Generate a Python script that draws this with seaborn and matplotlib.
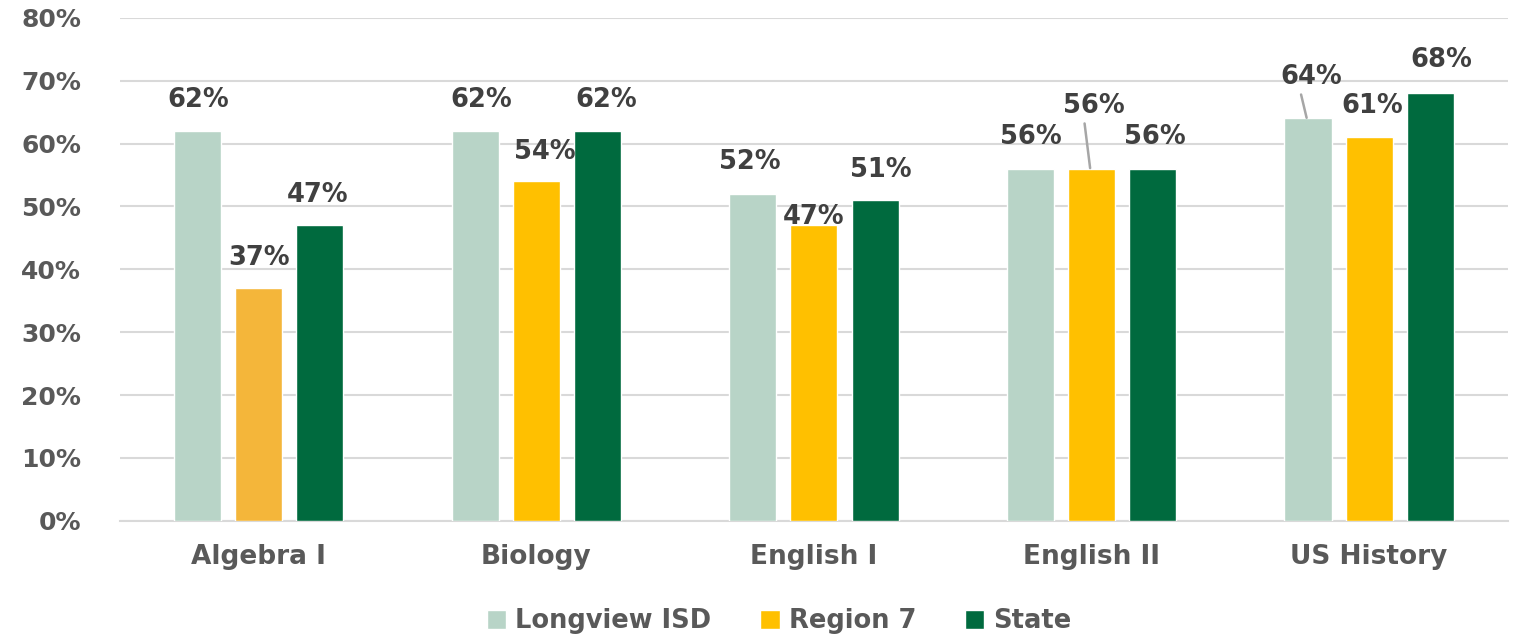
import matplotlib
matplotlib.use("Agg")
import matplotlib.pyplot as plt
import seaborn as sns
import pandas as pd

categories = ["Algebra I", "Biology", "English I", "English II", "US History"]
series = ["Longview ISD", "Region 7", "State"]
longview = [62, 62, 52, 56, 64]
region7 = [37, 54, 47, 56, 61]
state = [47, 62, 51, 56, 68]
yticks = [0, 10, 20, 30, 40, 50, 60, 70, 80]

colors = {"Longview ISD": "#B8D4C7", "Region 7": "#FFC000", "State": "#006A3E"}

rows = []
for s, vals in zip(series, [longview, region7, state]):
    for c, v in zip(categories, vals):
        rows.append({"Subject": c, "Group": s, "Value": v})
df = pd.DataFrame(rows)

sns.set_theme(style="white")
plt.rcParams["font.family"] = ["DejaVu Sans"]

fig = plt.figure(figsize=(15.2, 6.36), dpi=100)
ax = fig.add_axes([0.079, 0.181, 0.913, 0.791])

sns.barplot(data=df, x="Subject", y="Value", hue="Group", order=categories,
            hue_order=series, palette=colors, width=0.66, gap=0.23,
            saturation=1, ax=ax, legend=True, zorder=3)

ax.set_ylim(0, 80)
ax.set_xlim(-0.5, len(categories) - 0.5)
ax.set_yticks(yticks)
ax.set_yticklabels([f"{t}%" for t in yticks])
ax.yaxis.grid(True, color="#D9D9D9", linewidth=1.5, zorder=0)
ax.set_axisbelow(True)
for side in ["left", "right", "top"]:
    ax.spines[side].set_visible(False)
ax.spines["bottom"].set_color("#D9D9D9")
ax.spines["bottom"].set_linewidth(1.5)
ax.set_xlabel("")
ax.set_ylabel("")
ax.tick_params(axis="y", length=0, pad=28, labelsize=18, labelcolor="#595959")
ax.tick_params(axis="x", length=0, pad=17, labelcolor="#595959")
for t in ax.get_yticklabels():
    t.set_fontweight("bold")
for t in ax.get_xticklabels():
    t.set_fontweight("bold")
    t.set_fontsize(19)

# recolor Algebra I / Region 7 bar (slightly different hue in the reference)
for p in ax.patches:
    x = p.get_x() + p.get_width() / 2
    if abs(x - 0.0) < 0.05 and abs(p.get_height() - 37) < 0.01:
        p.set_facecolor("#F4B63A")

# data label placement (category-unit offset, label center y in %)
label_pos = {
    "Longview ISD": [(-0.22, 67), (-0.20, 67), (-0.23, 57), (-0.22, 61), (-0.21, 70.6)],
    "Region 7": [(0.0, 41.8), (0.03, 58.7), (0.0, 48.3), (0.01, 66), (0.01, 66)],
    "State": [(0.21, 51.8), (0.25, 67), (0.24, 55.8), (0.23, 61), (0.26, 73.3)],
}
offsets = {"Longview ISD": -0.22, "Region 7": 0.0, "State": 0.22}
leaders = {("Region 7", 3), ("Longview ISD", 4)}
for s, vals in zip(series, [longview, region7, state]):
    for i, v in enumerate(vals):
        dx, ly = label_pos[s][i]
        ax.text(i + dx, ly, f"{v}%", ha="center", va="center", fontsize=18.5,
                fontweight="bold", color="#404040", zorder=5)
        if (s, i) in leaders:
            bx = i + offsets[s]
            ax.plot([i + dx - 0.035, bx - 0.005], [ly - 2.8, v + 0.1],
                    color="#A6A6A6", linewidth=1.8, zorder=4)

leg = ax.legend(loc="upper center", bbox_to_anchor=(0.475, -0.128), ncol=3,
                frameon=False, handlelength=0.75, handleheight=0.75,
                handletextpad=0.35, columnspacing=1.9,
                prop={"weight": "bold", "size": 18.5})
for t in leg.get_texts():
    t.set_color("#595959")

fig.savefig("out.png", dpi=100, facecolor="white")
